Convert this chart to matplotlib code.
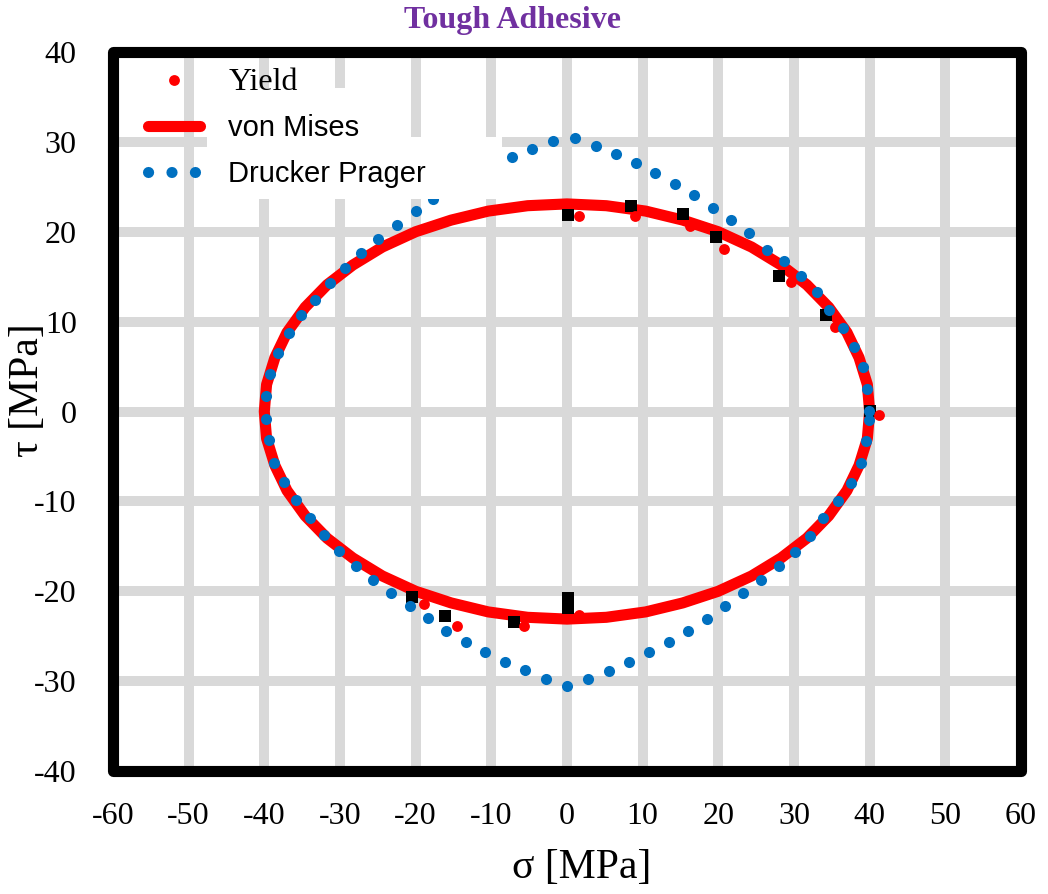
"""
Tough Adhesive — yield locus in sigma-tau space
von Mises ellipse, Drucker-Prager locus and measured yield points.
"""

import matplotlib
matplotlib.use("Agg")
import matplotlib.pyplot as plt
from matplotlib.lines import Line2D
from matplotlib.patches import Rectangle

plt.rcParams["axes.unicode_minus"] = False

# ── Data ─────────────────────────────────────────────────────────────────────

# measured yield points [MPa]
yield_sigma = [1.6, 9.0, 16.3, 20.7, 29.6, 35.4, 41.3, -18.9, -14.5, -5.7, 1.6]
yield_tau   = [21.8, 21.7, 20.6, 18.1, 14.4, 9.4, -0.4, -21.4, -23.9, -23.9, -22.6]

# second set of test points (black squares, not in legend)
test_sigma = [0.1, 8.4, 15.3, 19.7, 28.0, 34.2, 40.0, -20.5, -16.1, -7.0, 0.1, 0.1]
test_tau   = [21.9, 22.9, 22.0, 19.4, 15.1, 10.7, 0.1, -20.6, -22.7, -23.4, -20.7, -21.9]

# von Mises locus
vm_sigma = [40.0, 39.7, 38.6, 37.0, 34.6, 31.7, 28.3, 24.4, 20.0, 15.3, 10.4, 5.2,
            0.0, -5.2, -10.4, -15.3, -20.0, -24.4, -28.3, -31.7, -34.6, -37.0,
            -38.6, -39.7, -40.0, -39.7, -38.6, -37.0, -34.6, -31.7, -28.3, -24.4,
            -20.0, -15.3, -10.4, -5.2, 0.0, 5.2, 10.4, 15.3, 20.0, 24.4, 28.3,
            31.7, 34.6, 37.0, 38.6, 39.7, 40.0]
vm_tau   = [0.0, 3.0, 6.0, 8.8, 11.6, 14.1, 16.3, 18.3, 20.0, 21.3, 22.3, 22.9,
            23.1, 22.9, 22.3, 21.3, 20.0, 18.3, 16.3, 14.1, 11.6, 8.8,
            6.0, 3.0, 0.0, -3.0, -6.0, -8.8, -11.6, -14.1, -16.3, -18.3,
            -20.0, -21.3, -22.3, -22.9, -23.1, -22.9, -22.3, -21.3, -20.0, -18.3, -16.3,
            -14.1, -11.6, -8.8, -6.0, -3.0, 0.0]

# Drucker-Prager locus (dots)
dp_sigma = [39.9, 39.6, 39.1, 38.0, 36.5, 34.6, 33.0, 30.9, 28.7, 26.4, 24.1, 21.7,
            19.3, 16.8, 14.3, 11.7, 9.1, 6.5, 3.8, 1.1, -1.9, -4.6, -7.2, -10.0,
            -12.5, -15.0, -17.7, -20.0, -22.4, -25.0, -27.2, -29.3, -31.3, -33.3,
            -35.2, -36.8, -38.2, -39.2, -39.8, -39.8, -39.4, -38.7, -37.4, -35.8,
            -33.9, -32.1, -30.1, -27.9, -25.6, -23.2, -20.8, -18.4, -16.0, -13.4,
            -10.8, -8.2, -5.5, -2.8, 0.0, 2.8, 5.5, 8.2, 10.9, 13.5, 16.0, 18.5,
            20.9, 23.3, 25.6, 28.0, 30.2, 32.1, 33.9, 35.8, 37.5, 38.8, 39.5, 39.9]
dp_tau   = [0.1, 2.5, 4.9, 7.2, 9.3, 11.3, 13.3, 15.1, 16.8, 18.0, 19.9, 21.3,
            22.7, 24.1, 25.3, 26.5, 27.6, 28.7, 29.5, 30.4, 30.1, 29.2, 28.3, 27.1,
            26.0, 24.8, 23.6, 22.3, 20.8, 19.2, 17.6, 16.0, 14.3, 12.4,
            10.7, 8.7, 6.5, 4.2, 1.7, -0.8, -3.2, -5.7, -7.8, -9.9,
            -11.8, -13.7, -15.5, -17.2, -18.7, -20.2, -21.6, -23.0, -24.4, -25.6,
            -26.8, -27.9, -28.8, -29.8, -30.5, -29.8, -28.9, -27.9, -26.8, -25.7, -24.4, -23.1,
            -21.6, -20.2, -18.8, -17.2, -15.6, -13.9, -11.9, -10.0, -7.9, -5.7, -3.3, -0.9]

x_ticks = [-60, -50, -40, -30, -20, -10, 0, 10, 20, 30, 40, 50, 60]
y_ticks = [-40, -30, -20, -10, 0, 10, 20, 30, 40]

# ── Style ────────────────────────────────────────────────────────────────────

SERIF = "Liberation Serif"
SANS = "Liberation Sans"
RED = "#FF0000"
BLUE = "#0070C0"
GRID = "#D9D9D9"
PURPLE = "#7030A0"

fig = plt.figure(figsize=(10.48, 8.94), dpi=100)
ax = fig.add_axes([0.1078, 0.1376, 0.8664, 0.8042])

ax.set_xlim(-60, 60)
ax.set_ylim(-40, 40)
ax.set_xticks(x_ticks)
ax.set_yticks(y_ticks)
ax.grid(True, color=GRID, lw=7.2, zorder=0)
ax.set_axisbelow(True)
ax.tick_params(length=0, labelsize=23)
ax.tick_params(axis="x", pad=22)
ax.tick_params(axis="y", pad=26)
for lbl in ax.get_xticklabels() + ax.get_yticklabels():
    lbl.set_fontfamily(SERIF)
for s in ax.spines.values():
    s.set_visible(False)

# ── Series ───────────────────────────────────────────────────────────────────

ax.plot(vm_sigma, vm_tau, color=RED, lw=8, solid_joinstyle="round", zorder=2)
ax.plot(test_sigma, test_tau, "s", color="black", ms=8.5, mew=0, zorder=3)
ax.plot(yield_sigma, yield_tau, "o", color=RED, ms=7.8, mew=0, zorder=3.2)
ax.plot(dp_sigma, dp_tau, "o", color=BLUE, ms=8, mew=0, zorder=3.5)

# white boxes behind legend entries (hide grid / curve)
ax.add_patch(Rectangle((0.1035, 0.882), 0.2235, 0.068, transform=ax.transAxes,
                       fc="white", ec="none", zorder=4))
ax.add_patch(Rectangle((0.1035, 0.795), 0.3245, 0.087, transform=ax.transAxes,
                       fc="white", ec="none", zorder=4))

# plot-area frame with rounded corners
ax.add_patch(Rectangle((0, 0), 1, 1, transform=ax.transAxes, fill=False,
                       ec="black", lw=8, joinstyle="round", clip_on=False, zorder=6))

# ── Legend ───────────────────────────────────────────────────────────────────

handles = [
    Line2D([], [], ls="none", marker="o", color=RED, ms=7.8, mew=0),
    Line2D([], [], color=RED, lw=8, solid_capstyle="round"),
    Line2D([], [], color=BLUE, lw=8, ls=(0, (0.01, 2.1)), dash_capstyle="round"),
]
leg = ax.legend(handles, ["Yield", "von Mises", "Drucker Prager"],
                loc="upper left", bbox_to_anchor=(0.0385, 0.978), frameon=False,
                borderpad=0, borderaxespad=0, fontsize=21, handlelength=1.8,
                handletextpad=0.95, labelspacing=0.6)
leg.set_zorder(5)
texts = leg.get_texts()
texts[0].set_fontfamily(SERIF)
texts[0].set_fontsize(23)
texts[1].set_fontfamily(SANS)
texts[2].set_fontfamily(SANS)

# ── Labels ───────────────────────────────────────────────────────────────────

ax.set_xlabel("σ [MPa]", fontfamily=SERIF, fontsize=30)
ax.xaxis.label.set_va("center")
ax.xaxis.set_label_coords(0.516, -0.135)
ax.set_ylabel("τ [MPa]", fontfamily=SERIF, fontsize=30)
ax.yaxis.label.set_va("center")
ax.yaxis.set_label_coords(-0.094, 0.53)

fig.text(0.489, 0.977, "Tough Adhesive", ha="center", va="center",
         fontfamily=SERIF, fontweight="bold", fontsize=23, color=PURPLE)

fig.savefig("out.png", dpi=100)
